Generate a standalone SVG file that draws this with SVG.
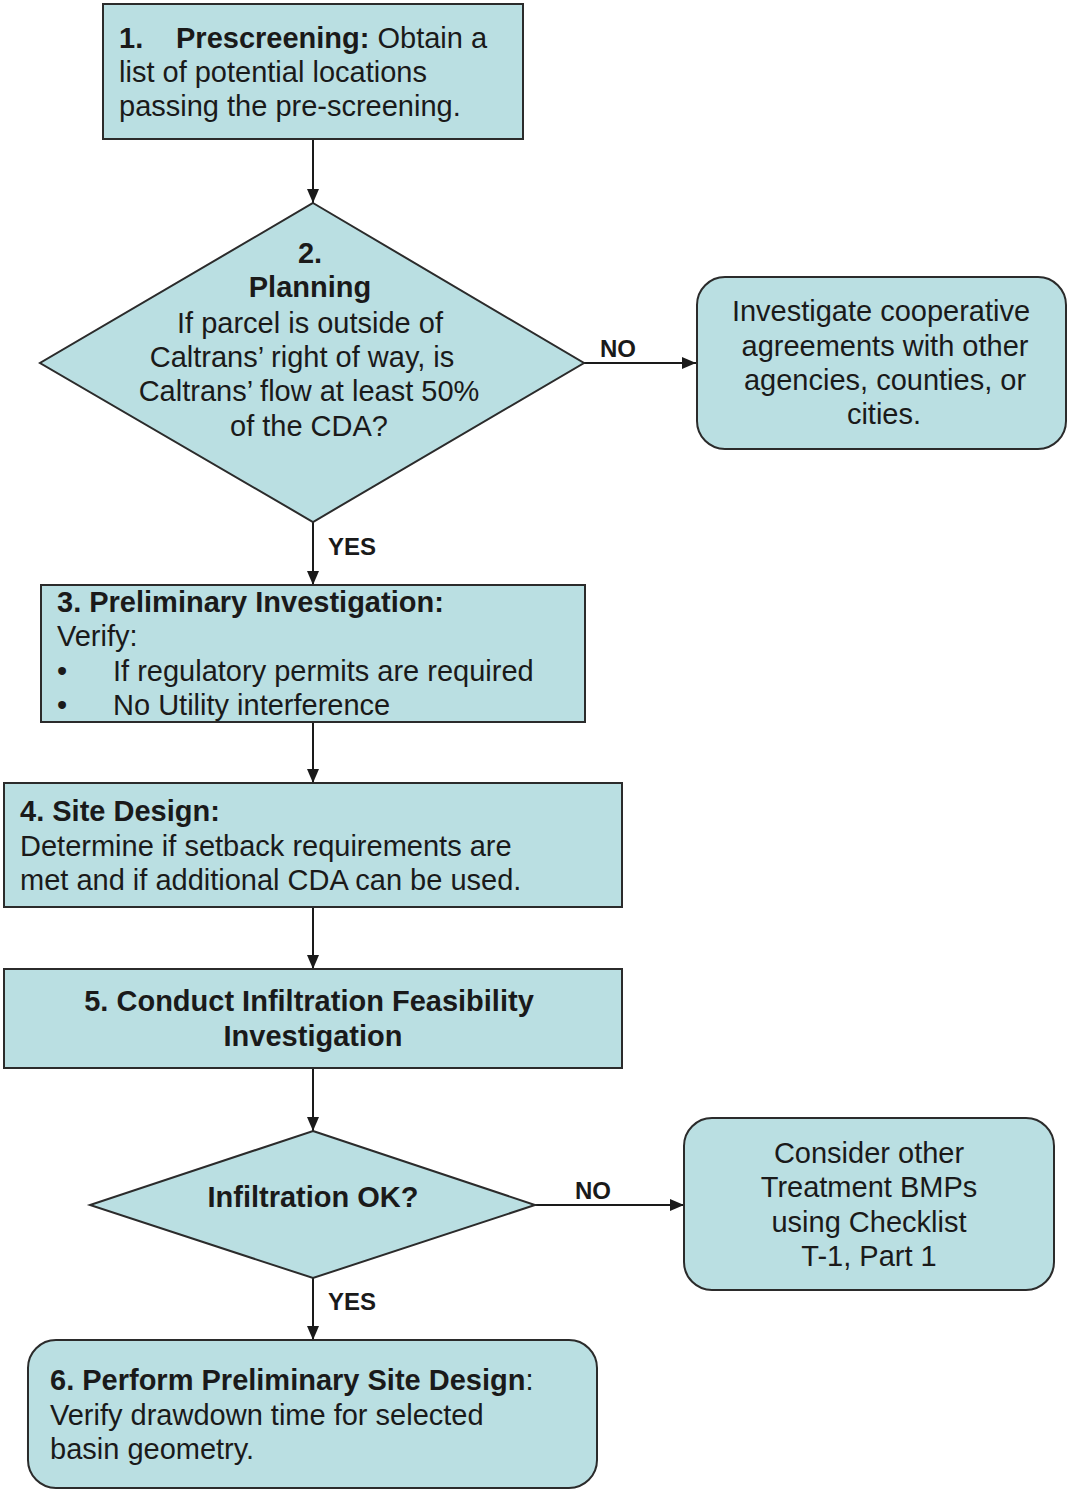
<svg xmlns="http://www.w3.org/2000/svg" width="1068" height="1492" viewBox="0 0 1068 1492">
<style>
.n{fill:#badfe2;stroke:#2b2b2b;stroke-width:2}
text{font-family:"Liberation Sans",Arial,sans-serif;font-size:29px;fill:#1a1a1a}
.b{font-weight:bold}
.c{text-anchor:middle}
.l{font-family:"Liberation Sans",Arial,sans-serif;font-size:24px;font-weight:bold;fill:#1a1a1a}
.e{stroke:#1a1a1a;stroke-width:2;fill:none;marker-end:url(#a)}
</style>
<defs>
<marker id="a" markerWidth="14" markerHeight="12" refX="14" refY="6" orient="auto" markerUnits="userSpaceOnUse" viewBox="0 0 14 12">
<path d="M0,0 L14,6 L0,12 z" fill="#1a1a1a"/>
</marker>
</defs>
<rect width="1068" height="1492" fill="#ffffff"/>
<g id="connectors">
<line class="e" x1="313" y1="139" x2="313" y2="203"/>
<line class="e" x1="584" y1="363" x2="696" y2="363"/>
<line class="e" x1="313" y1="522" x2="313" y2="585"/>
<line class="e" x1="313" y1="722" x2="313" y2="783"/>
<line class="e" x1="313" y1="907" x2="313" y2="969"/>
<line class="e" x1="313" y1="1068" x2="313" y2="1131"/>
<line class="e" x1="535" y1="1205" x2="684" y2="1205"/>
<line class="e" x1="313" y1="1278" x2="313" y2="1340"/>
<text class="l" x="600" y="357">NO</text>
<text class="l" x="328" y="555">YES</text>
<text class="l" x="575" y="1199">NO</text>
<text class="l" x="328" y="1310">YES</text>
</g>
<g id="n1">
<rect class="n" x="103" y="4" width="420" height="135"/>
<text class="b" x="119" y="48">1.</text>
<text x="176" y="48"><tspan class="b">Prescreening:</tspan> Obtain a</text>
<text x="119" y="82">list of potential locations</text>
<text x="119" y="116">passing the pre-screening.</text>
</g>
<g id="n2">
<polygon class="n" points="313,203 584,363 313,522 40,363"/>
<text class="c b" x="310" y="263">2.</text>
<text class="c b" x="310" y="297">Planning</text>
<text class="c" x="310" y="333">If parcel is outside of</text>
<text class="c" x="302" y="367">Caltrans’ right of way, is</text>
<text class="c" x="309" y="401">Caltrans’ flow at least 50%</text>
<text class="c" x="309" y="436">of the CDA?</text>
</g>
<g id="n2no">
<rect class="n" x="697" y="277" width="369" height="172" rx="28"/>
<text class="c" x="881" y="321">Investigate cooperative</text>
<text class="c" x="885" y="356">agreements with other</text>
<text class="c" x="885" y="390">agencies, counties, or</text>
<text class="c" x="884" y="424">cities.</text>
</g>
<g id="n3">
<rect class="n" x="41" y="585" width="544" height="137"/>
<text class="b" x="57" y="612">3. Preliminary Investigation:</text>
<text x="57" y="646">Verify:</text>
<text x="57" y="681">•</text>
<text x="113" y="681">If regulatory permits are required</text>
<text x="57" y="715">•</text>
<text x="113" y="715">No Utility interference</text>
</g>
<g id="n4">
<rect class="n" x="4" y="783" width="618" height="124"/>
<text class="b" x="20" y="821">4. Site Design:</text>
<text x="20" y="856">Determine if setback requirements are</text>
<text x="20" y="890">met and if additional CDA can be used.</text>
</g>
<g id="n5">
<rect class="n" x="4" y="969" width="618" height="99"/>
<text class="c b" x="309" y="1011">5. Conduct Infiltration Feasibility</text>
<text class="c b" x="313" y="1046">Investigation</text>
</g>
<g id="n6d">
<polygon class="n" points="313,1131 535,1205 313,1278 90,1205"/>
<text class="c b" x="313" y="1207">Infiltration OK?</text>
</g>
<g id="n6no">
<rect class="n" x="684" y="1118" width="370" height="172" rx="28"/>
<text class="c" x="869" y="1163">Consider other</text>
<text class="c" x="869" y="1197">Treatment BMPs</text>
<text class="c" x="869" y="1232">using Checklist</text>
<text class="c" x="869" y="1266">T-1, Part 1</text>
</g>
<g id="n6">
<rect class="n" x="28" y="1340" width="569" height="148" rx="28"/>
<text x="50" y="1390"><tspan class="b">6. Perform Preliminary Site Design</tspan>:</text>
<text x="50" y="1425">Verify drawdown time for selected</text>
<text x="50" y="1459">basin geometry.</text>
</g>
</svg>
